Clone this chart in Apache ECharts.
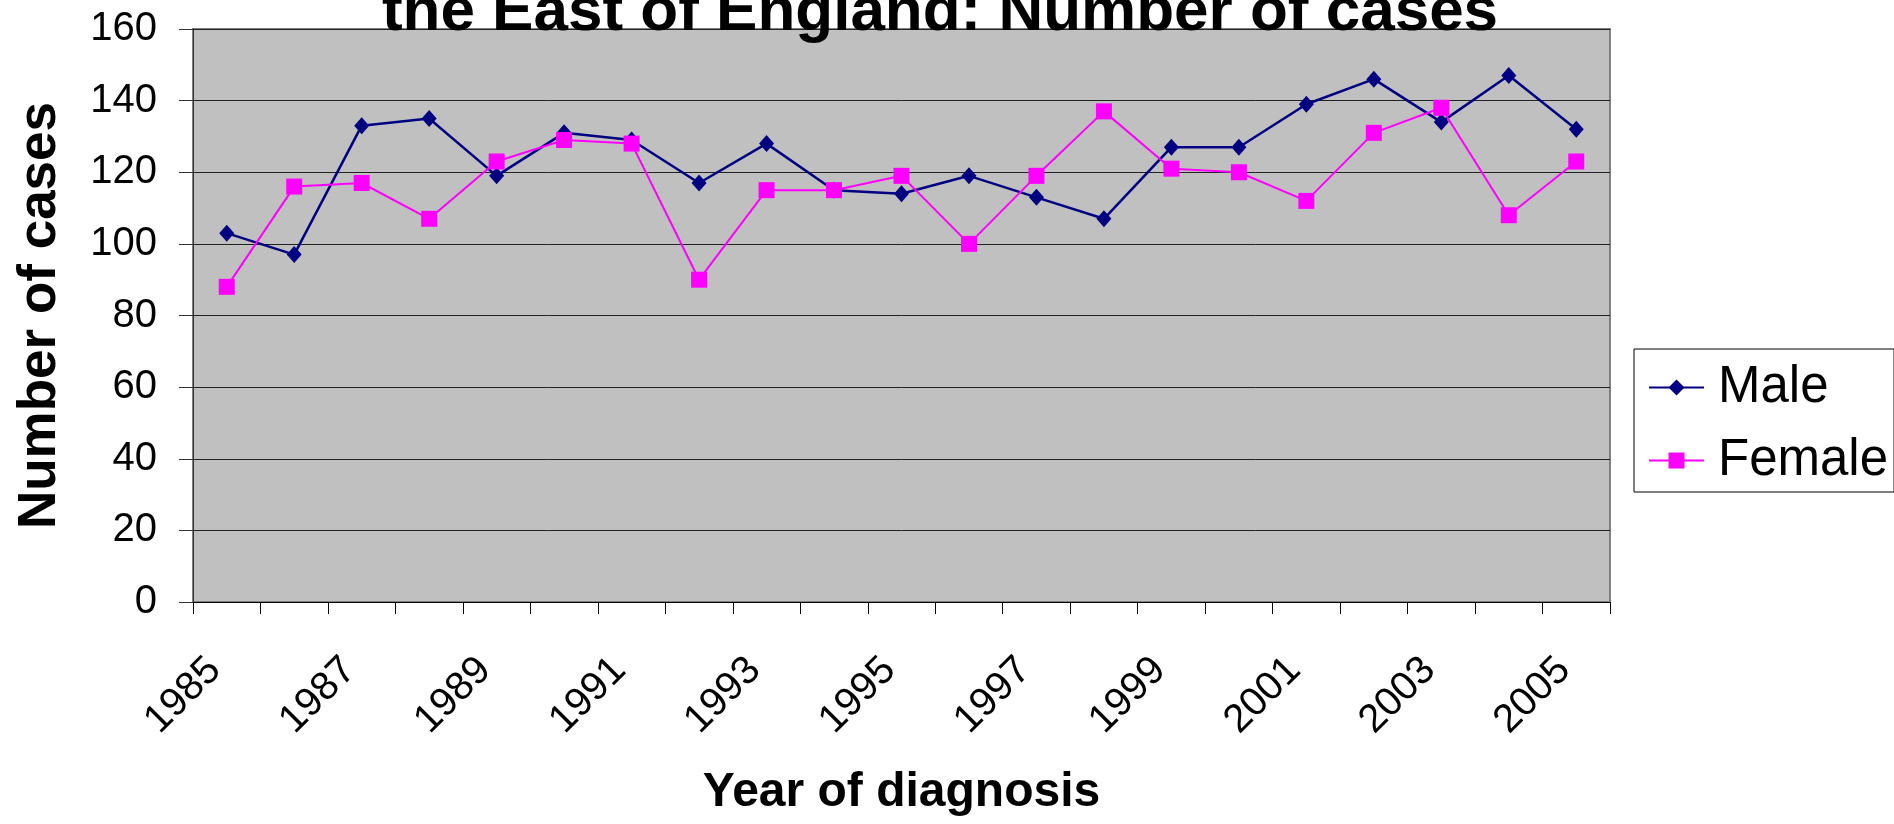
<!DOCTYPE html>
<html>
<head>
<meta charset="utf-8">
<script src="https://cdn.jsdelivr.net/npm/echarts@6/dist/echarts.min.js"></script>
<style>
html,body{margin:0;padding:0;background:#fff;}
#chart{width:1894px;height:824px;}
</style>
</head>
<body>
<div id="chart"></div>
<script>
const titleText = 'the East of England: Number of cases';
const years = ['1985','1986','1987','1988','1989','1990','1991','1992','1993','1994','1995','1996','1997','1998','1999','2000','2001','2002','2003','2004','2005'];
const maleValues = [103, 97, 133, 135, 119, 131, 129, 117, 128, 115, 114, 119, 113, 107, 127, 127, 139, 146, 134, 147, 132];
const femaleValues = [88, 116, 117, 107, 123, 129, 128, 90, 115, 115, 119, 100, 119, 137, 121, 120, 112, 131, 138, 108, 123];
const yAxisName = 'Number of cases';
const xAxisName = 'Year of diagnosis';
const seriesNames = ['Male', 'Female'];

const FONT = '"Liberation Sans", Arial, sans-serif';
const chart = echarts.init(document.getElementById('chart'), null, {renderer: 'canvas'});
chart.setOption({
  animation: false,
  backgroundColor: '#ffffff',
  graphic: [{
    type: 'text',
    x: 940,
    y: 13,
    style: {
      text: titleText,
      fontFamily: FONT,
      fontWeight: 'bold',
      fontSize: 62,
      fill: '#000',
      align: 'center',
      verticalAlign: 'middle'
    },
    z: 100
  }],
  grid: {
    left: 193, top: 29, width: 1417, height: 573,
    show: true,
    backgroundColor: '#C0C0C0',
    borderColor: '#808080',
    borderWidth: 2
  },
  legend: {
    orient: 'vertical',
    left: 1634,
    top: 349,
    padding: [13, 6, 6, 14],
    itemWidth: 55,
    itemHeight: 20,
    itemGap: 22,
    backgroundColor: '#fff',
    borderColor: '#000',
    borderWidth: 1,
    textStyle: {fontFamily: FONT, fontSize: 51, color: '#000', padding: [0, 0, 0, 9]},
    data: seriesNames
  },
  xAxis: {
    type: 'category',
    data: years,
    boundaryGap: true,
    name: xAxisName,
    nameLocation: 'middle',
    nameGap: 167,
    nameTextStyle: {fontFamily: FONT, fontWeight: 'bold', fontSize: 48, color: '#000'},
    axisLine: {show: true, lineStyle: {color: '#000', width: 1}},
    axisTick: {show: true, interval: 0, length: 12, lineStyle: {color: '#000'}},
    axisLabel: {
      interval: 1,
      rotate: 45,
      margin: 50,
      padding: [0, 17, 0, 0],
      fontFamily: FONT,
      fontSize: 40,
      color: '#000'
    },
    splitLine: {show: false}
  },
  yAxis: {
    type: 'value',
    min: 0, max: 160, interval: 20,
    name: yAxisName,
    nameLocation: 'middle',
    nameGap: 126,
    nameTextStyle: {fontFamily: FONT, fontWeight: 'bold', fontSize: 53, color: '#000'},
    axisLine: {show: true, lineStyle: {color: '#333', width: 1}},
    axisTick: {show: true, length: 14, lineStyle: {color: '#333'}},
    axisLabel: {margin: 36, fontFamily: FONT, fontSize: 40, color: '#000'},
    splitLine: {show: true, lineStyle: {color: '#222', width: 1}}
  },
  series: [{
    name: seriesNames[0],
    type: 'line',
    data: maleValues,
    symbol: 'diamond',
    symbolSize: [15, 17],
    showAllSymbol: true,
    itemStyle: {color: '#000080'},
    lineStyle: {color: '#000080', width: 2.5}
  }, {
    name: seriesNames[1],
    type: 'line',
    data: femaleValues,
    symbol: 'rect',
    symbolSize: 16,
    showAllSymbol: true,
    itemStyle: {color: '#FF00FF'},
    lineStyle: {color: '#FF00FF', width: 2}
  }]
});
</script>
</body>
</html>
